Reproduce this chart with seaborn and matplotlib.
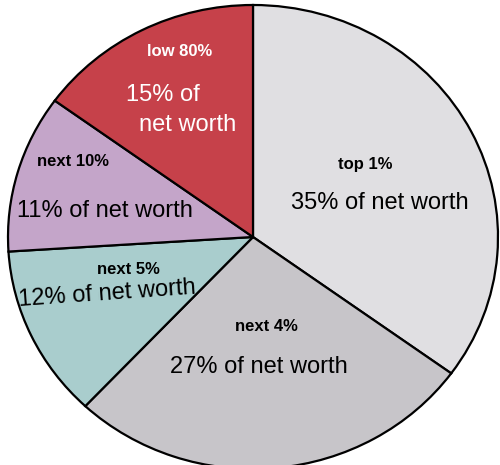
import matplotlib
matplotlib.use("Agg")
import matplotlib.pyplot as plt
import seaborn as sns

groups = ["top 1%", "next 4%", "next 5%", "next 10%", "low 80%"]
shares = [35, 27, 12, 11, 15]
share_labels = ["35% of net worth", "27% of net worth", "12% of net worth",
                "11% of net worth", "15% of\nnet worth"]
colors = ["#E0DFE2", "#C7C5C9", "#A9CDCD", "#C4A5C9", "#C6414A"]

sns.set_theme(style="white")
plt.rcParams['font.family'] = ['Liberation Sans Narrow', 'Liberation Sans', 'DejaVu Sans']

fig = plt.figure(figsize=(5.0, 4.65), dpi=100)
ax = fig.add_axes([0, 0, 1, 1])
ax.pie(shares, colors=colors, startangle=90, counterclock=False,
       wedgeprops=dict(edgecolor="black", linewidth=1.6))
ax.set_aspect('auto')

cx, cy, rx, ry = 253, 237, 245, 232
ax.set_xlim((0 - cx) / rx, (500 - cx) / rx)
ax.set_ylim((cy - 465) / ry, (cy - 0) / ry)
ax.axis('off')

def P(px, py):
    return (px - cx) / rx, (cy - py) / ry

# positions (pixel) of group labels and share labels
grp_pos = [(365, 165), (266, 326), (128, 270), (73, 162), (180, 52)]
shr_pos = [(380, 203), (259, 367), (107, 294), (105, 211), (180, 110)]
txt_col = ["black", "black", "black", "black", "white"]
rots = [0, 0, 4, 0, 0]

for g, s, gp, sp, c, r in zip(groups, share_labels, grp_pos, shr_pos, txt_col, rots):
    ax.text(*P(*gp), g, ha="center", va="center", fontsize=12,
            fontweight="bold", color=c)
    if "\n" in s:
        l1, l2 = s.split("\n")
        ax.text(*P(163, 95), l1, ha="center", va="center", fontsize=17, color=c)
        ax.text(*P(188, 125), l2, ha="center", va="center", fontsize=17, color=c)
    else:
        ax.text(*P(*sp), s, ha="center", va="center", fontsize=17, color=c,
                rotation=r)

fig.savefig("out.png", dpi=100)
